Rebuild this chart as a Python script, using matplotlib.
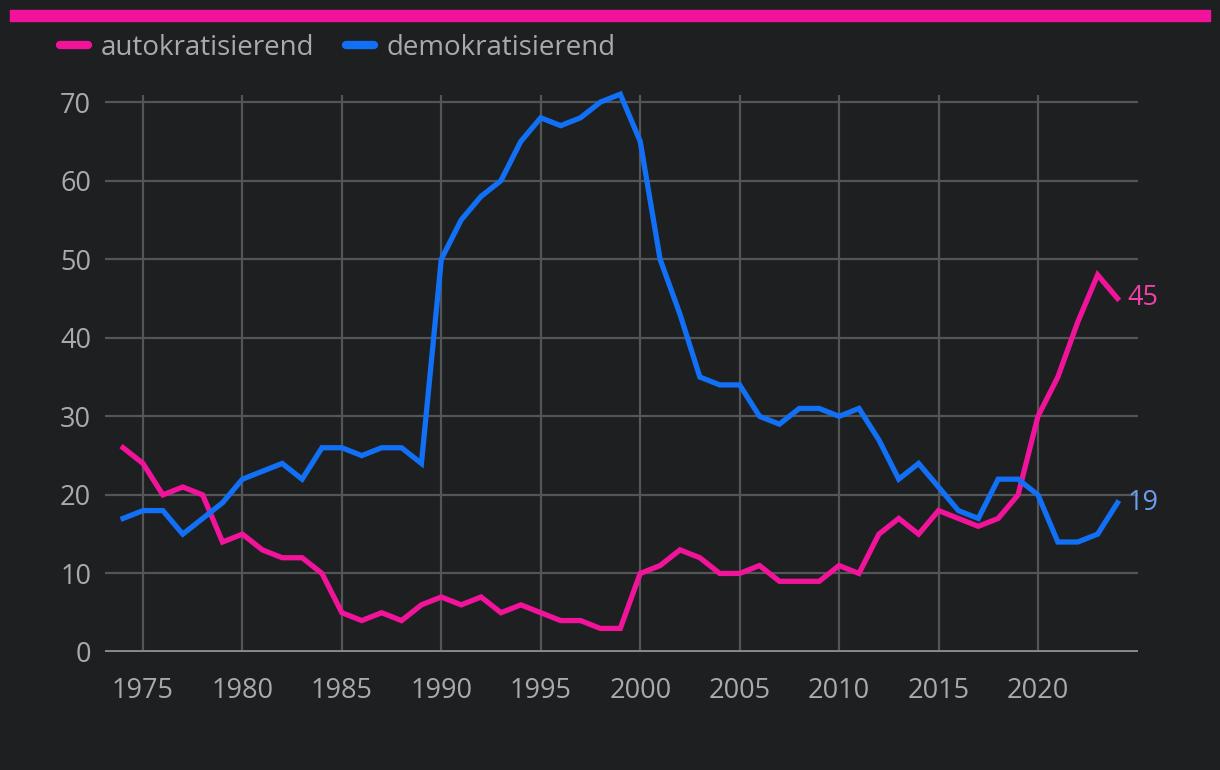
import numpy as np
from matplotlib import pyplot as plt
from matplotlib.lines import Line2D

# ====================== data ======================
years = list(range(1974, 2025))
autokrat = [26, 24, 20, 21, 20, 14, 15, 13, 12, 12, 10, 5, 4, 5, 4, 6, 7, 6, 7, 5,
            6, 5, 4, 4, 3, 3, 10, 11, 13, 12, 10, 10, 11, 9, 9, 9, 11, 10, 15, 17,
            15, 18, 17, 16, 17, 20, 30, 35, 42, 48, 45]
demokrat = [17, 18, 18, 15, 17, 19, 22, 23, 24, 22, 26, 26, 25, 26, 26, 24, 50, 55, 58, 60,
            65, 68, 67, 68, 70, 71, 65, 50, 43, 35, 34, 34, 30, 29, 31, 31, 30, 31, 27, 22,
            24, 21, 18, 17, 22, 22, 20, 14, 14, 15, 19]
x_ticks = [1975, 1980, 1985, 1990, 1995, 2000, 2005, 2010, 2015, 2020]
y_ticks = [0, 10, 20, 30, 40, 50, 60, 70]

# ====================== style ======================
BG = '#1e1f21'
PINK = '#f2139b'
BLUE = '#1170f5'
GRID = '#545556'
TXT = '#a9aaab'
plt.rcParams['font.family'] = ['Open Sans', 'DejaVu Sans']

fig = plt.figure(figsize=(12.2, 7.7), dpi=100, facecolor=BG)

# top accent bar
fig.patches.append(plt.Rectangle((10 / 1220, 1 - 21 / 770), 1200 / 1220, 11 / 770,
                                 transform=fig.transFigure, color=PINK, zorder=0))

ax = fig.add_axes([105 / 1220, 118 / 770, 1033 / 1220, 557 / 770], facecolor=BG)
ax.set_xlim(1973.09, 2025.03)
ax.set_ylim(0, 70.9)

for s in ax.spines.values():
    s.set_visible(False)
ax.set_xticks(x_ticks)
ax.set_yticks(y_ticks)
ax.tick_params(length=0, colors=TXT, labelsize=19.5)
ax.tick_params(axis='x', pad=18)
ax.tick_params(axis='y', pad=10)
ax.grid(True, color=GRID, lw=1.6)
ax.set_axisbelow(True)
ax.axhline(0, color='#8a8a8a', lw=3.5, zorder=2)

ax.plot(years, autokrat, color=PINK, lw=3.8, solid_joinstyle='miter', zorder=3, clip_on=False)
ax.plot(years, demokrat, color=BLUE, lw=3.8, solid_joinstyle='miter', zorder=3, clip_on=False)

ax.annotate(str(autokrat[-1]), (years[-1], autokrat[-1]), xytext=(7, 0),
            textcoords='offset points', va='center', ha='left', color='#f53fa8',
            fontsize=19.5, clip_on=False)
ax.annotate(str(demokrat[-1]), (years[-1], demokrat[-1]), xytext=(7, 0),
            textcoords='offset points', va='center', ha='left', color='#6c9df2',
            fontsize=19.5, clip_on=False)

handles = [Line2D([], [], color=PINK, lw=6, solid_capstyle='round'),
           Line2D([], [], color=BLUE, lw=6, solid_capstyle='round')]
leg = fig.legend(handles, ['autokratisierend', 'demokratisierend'], loc='upper left',
                 bbox_to_anchor=(35 / 1220, 1 - 9 / 770), ncol=2, frameon=False,
                 fontsize=20, handlelength=1.0, handletextpad=0.45, columnspacing=1.15,
                 labelcolor=TXT)

fig.savefig('out.png', dpi=100, facecolor=BG)
